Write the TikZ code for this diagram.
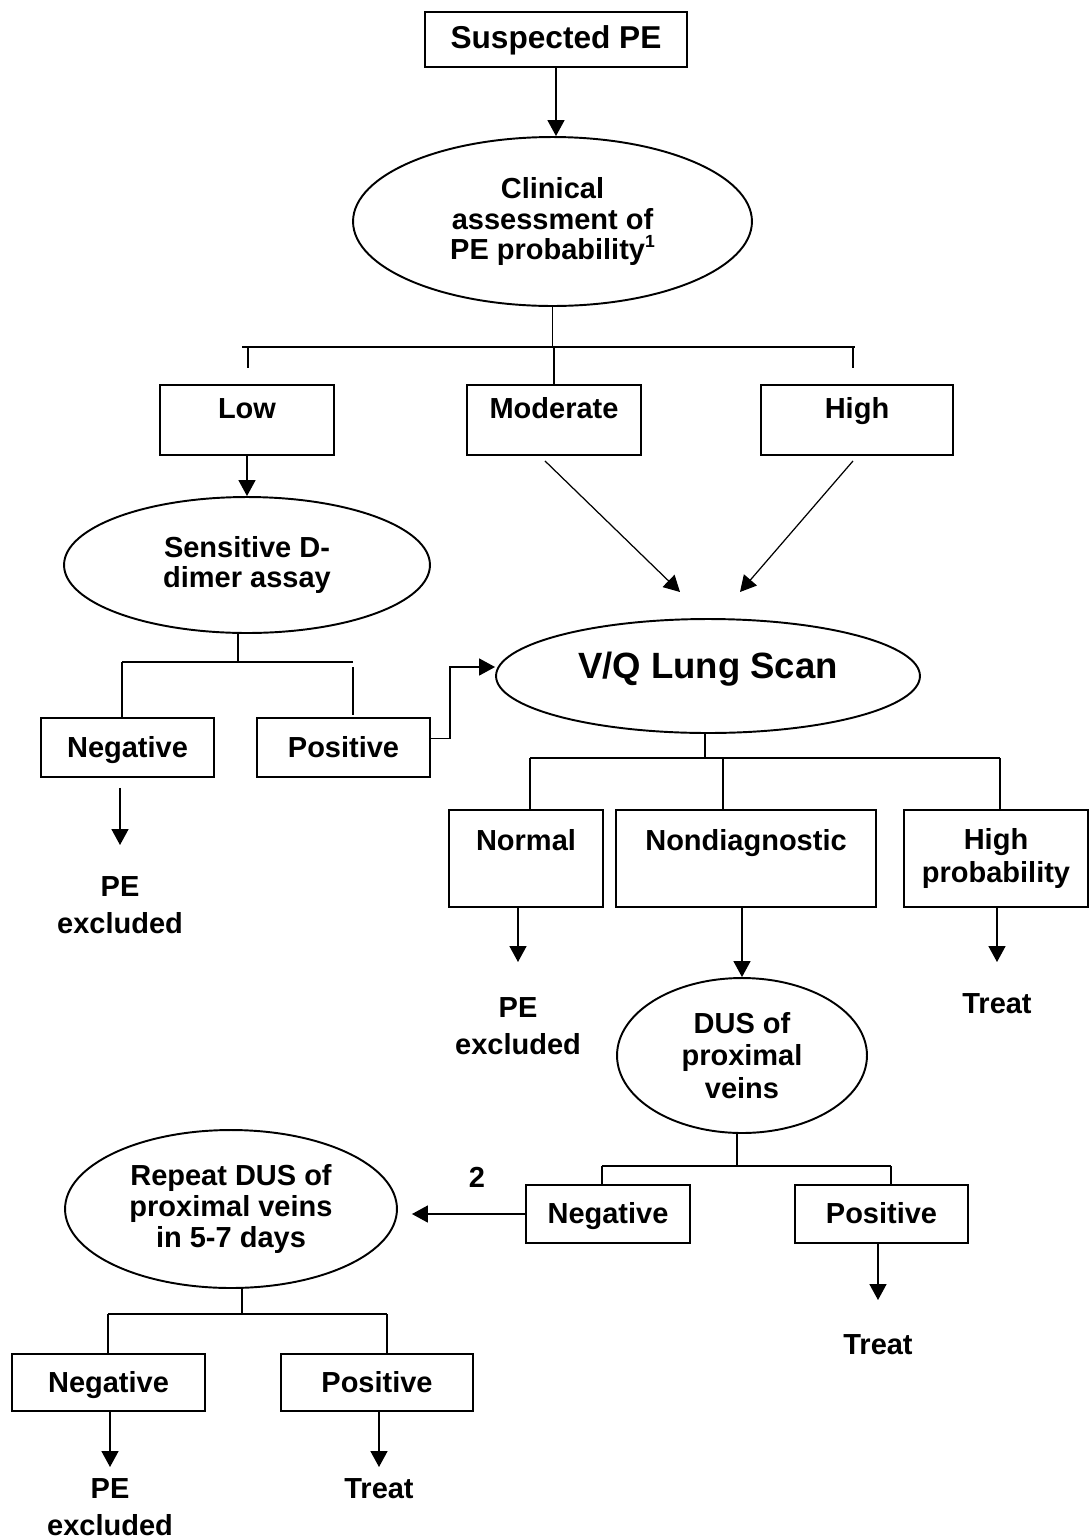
\documentclass[tikz,border=0pt]{standalone}
\usepackage{fontspec}
\setmainfont{Liberation Sans}
\usetikzlibrary{shapes.geometric,arrows.meta}

\tikzset{
  box/.style={draw, line width=1.1pt, inner sep=0pt},
  bubble/.style={draw, ellipse, line width=1.1pt, inner sep=0pt, align=center},
  result/.style={inner sep=0pt, align=center, anchor=north,
    font=\fontsize{16.5}{21}\selectfont\bfseries},
  link/.style={line width=0.9pt},
  arrow/.style={link, -{Triangle[length=0.32cm,width=0.34cm]}},
}

\begin{document}
\begin{tikzpicture}[x=0.02cm, y=-0.02cm,
    every node/.style={font=\fontsize{16.5}{17.5}\selectfont\bfseries}]
  \useasboundingbox (0,0) rectangle (1092,1539);

  % Noeuds
  \node[box, minimum width=5.24cm, text height=0.72cm, text depth=0.38cm,
    font=\fontsize{18}{20}\selectfont\bfseries] (susp) at (556,39.5) {Suspected PE};
  \node[bubble, minimum width=7.98cm, minimum height=3.38cm] (clin) at (552.5,221.5)
    {Clinical\\assessment of\\PE probability\raisebox{0.42em}{\fontsize{10}{10}\selectfont 1}};

  \node[box, minimum width=3.48cm, text height=0.66cm, text depth=0.74cm] (low) at (247,420) {Low};
  \node[box, minimum width=3.48cm, text height=0.66cm, text depth=0.74cm] (mod) at (554,420) {Moderate};
  \node[box, minimum width=3.84cm, text height=0.66cm, text depth=0.74cm] (high) at (857,420) {High};

  \node[bubble, minimum width=7.32cm, minimum height=2.72cm] (ddim) at (247,565) {Sensitive D-\\dimer assay};
  \node[bubble, minimum width=8.48cm, minimum height=2.28cm, text height=0.5cm, text depth=0.42cm,
    font=\fontsize{20.8}{24}\selectfont\bfseries] (vq) at (708,676) {V/Q Lung Scan};

  \node[box, minimum width=3.46cm, text height=0.78cm, text depth=0.4cm] (dneg) at (127.5,747.5) {Negative};
  \node[box, minimum width=3.46cm, text height=0.78cm, text depth=0.4cm] (dpos) at (343.5,747.5) {Positive};
  \node[result] (pex1) at (120,876) {PE\\excluded};

  \node[box, minimum width=3.08cm, text height=0.8cm, text depth=1.14cm] (normal) at (526,858.5) {Normal};
  \node[box, minimum width=5.2cm, text height=0.8cm, text depth=1.14cm] (nondiag) at (746,858.5) {Nondiagnostic};
  \node[box, minimum width=3.68cm, minimum height=1.94cm, align=center,
    font=\fontsize{16.5}{19}\selectfont\bfseries] (highp) at (996,858.5) {High\\probability};
  \node[result] (pex2) at (518,997) {PE\\excluded};
  \node[result] (treat1) at (997,993) {Treat};

  \node[bubble, minimum width=5cm, minimum height=3.1cm,
    font=\fontsize{16.5}{18.5}\selectfont\bfseries] (dus) at (742,1055.5) {DUS of\\proximal\\veins};
  \node[box, minimum width=3.28cm, text height=0.76cm, text depth=0.4cm] (uneg) at (608,1214) {Negative};
  \node[box, minimum width=3.46cm, text height=0.76cm, text depth=0.4cm] (upos) at (881.5,1214) {Positive};
  \node (two) at (477,1177) {2};
  \node[result] (treat2) at (878,1334) {Treat};

  \node[bubble, minimum width=6.64cm, minimum height=3.16cm] (rep) at (231,1209)
    {Repeat DUS of\\proximal veins\\in 5-7 days};
  \node[box, minimum width=3.86cm, text height=0.76cm, text depth=0.38cm] (rneg) at (108.5,1382.5) {Negative};
  \node[box, minimum width=3.84cm, text height=0.76cm, text depth=0.38cm] (rpos) at (377,1382.5) {Positive};
  \node[result] (pex3) at (110,1478) {PE\\excluded};
  \node[result] (treat3) at (379,1478) {Treat};

  % Probabilite clinique
  \coordinate (cbL) at (242,347);
  \coordinate (cbR) at (855,347);
  \coordinate (lowtop) at (248,368);
  \coordinate (hightop) at (853,368);
  \draw[arrow] (susp.south) -- (susp.south |- clin.north);
  \draw[link] (clin.south) -- (clin.south |- cbL);
  \draw[link] (cbL) -- (cbR);
  \draw[link] (lowtop |- cbL) -- (lowtop);
  \draw[link] (mod.north |- cbL) -- (mod.north);
  \draw[link] (hightop |- cbL) -- (hightop);

  \coordinate (vqA) at (680,592);
  \coordinate (vqB) at (740,592);
  \draw[arrow] (low) -- (ddim);
  \draw[arrow, line width=0.7pt] ([xshift=-0.18cm, yshift=-0.1cm]mod.south) -- (vqA);
  \draw[arrow, line width=0.7pt] ([xshift=-0.08cm, yshift=-0.1cm]high.south) -- (vqB);

  % D-dimeres
  \coordinate (dbar) at (238,662);
  \coordinate (dbL) at (122,662);
  \coordinate (dbR) at (353,662);
  \coordinate (dposR) at (353,715);
  \draw[link] (dbar |- ddim.south) -- (dbar);
  \draw[link] (dbL) -- (dbR);
  \draw[link] (dbL) -- (dbL |- dneg.north);
  \draw[link] ([yshift=-0.1cm]dbR) -- (dposR);
  \draw[arrow] ([yshift=0.18cm]dpos.east) -- ++(19,0) |- ([yshift=0.18cm]vq.west);
  \draw[arrow, shorten <=0.2cm, shorten >=0.62cm] (pex1.north |- dneg.south) -- (pex1.north);

  % Scintigraphie
  \coordinate (vbar) at (705,758);
  \coordinate (vbL) at (530,758);
  \coordinate (vbM) at (723,758);
  \coordinate (vbR) at (1000,758);
  \draw[link] (vbar |- vq.south) -- (vbar);
  \draw[link] (vbL) -- (vbR);
  \draw[link] (vbL) -- (vbL |- normal.north);
  \draw[link] (vbM) -- (vbM |- nondiag.north);
  \draw[link] (vbR) -- (vbR |- highp.north);
  \draw[arrow, shorten >=0.7cm] (pex2.north |- normal.south) -- (pex2.north);
  \draw[arrow] (dus.north |- nondiag.south) -- (dus.north);
  \draw[arrow, shorten >=0.62cm] (treat1.north |- highp.south) -- (treat1.north);

  % Echo-doppler
  \coordinate (ubar) at (737,1166);
  \coordinate (ubL) at (602,1166);
  \coordinate (ubR) at (891,1166);
  \draw[link] (ubar |- dus.south) -- (ubar);
  \draw[link] (ubL) -- (ubR);
  \draw[link] (ubL) -- (ubL |- uneg.north);
  \draw[link] (ubR) -- (ubR |- upos.north);
  \draw[arrow, shorten >=0.28cm] (uneg.west) -- (uneg.west -| rep.east);
  \draw[arrow, shorten >=0.68cm] (treat2.north |- upos.south) -- (treat2.north);

  % Repetition
  \coordinate (rbar) at (242,1314);
  \coordinate (rbL) at (108,1314);
  \coordinate (rbR) at (387,1314);
  \draw[link] (rbar |- rep.south) -- (rbar);
  \draw[link] (rbL) -- (rbR);
  \draw[link] (rbL) -- (rbL |- rneg.north);
  \draw[link] (rbR) -- (rbR |- rpos.north);
  \draw[arrow, shorten >=0.22cm] (pex3.north |- rneg.south) -- (pex3.north);
  \draw[arrow, shorten >=0.22cm] (treat3.north |- rpos.south) -- (treat3.north);
\end{tikzpicture}
\end{document}
